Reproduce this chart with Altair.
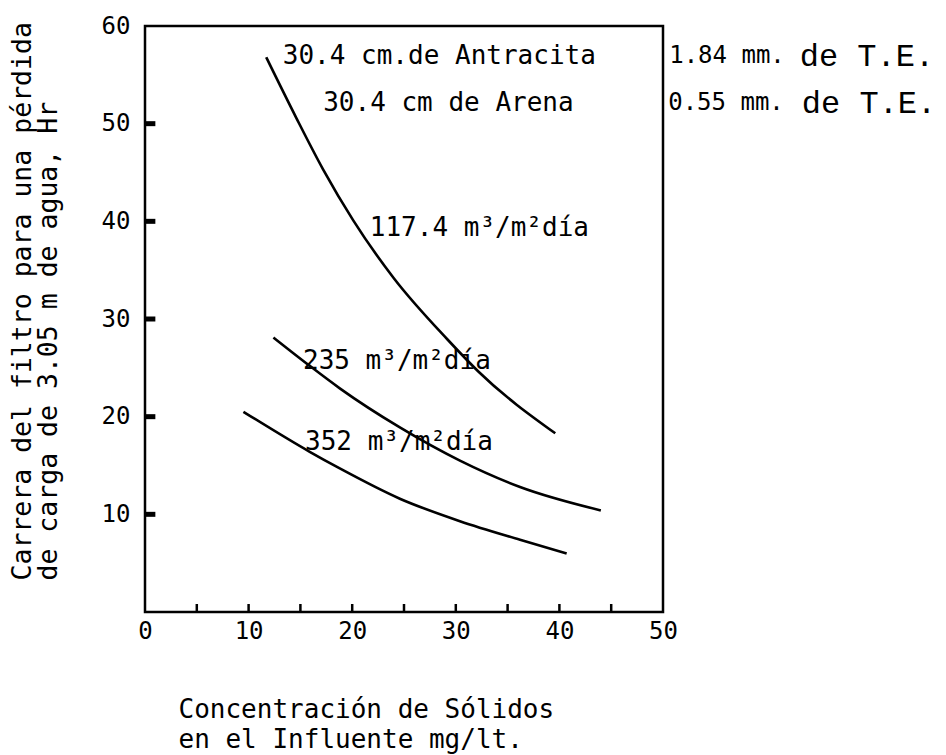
import altair as alt
import pandas as pd

# Run length of the dual-media filter (h) against influent solids (mg/l),
# one curve per filtration rate.
conc_117 = [11.7, 14.6, 17.2, 20.1, 24.0, 29.2, 32.2, 39.6]
hours_117 = [56.8, 50.6, 45.3, 40.1, 34.2, 27.9, 24.6, 18.3]
conc_235 = [12.4, 15.9, 18.8, 24.6, 30.4, 36.2, 44.0]
hours_235 = [28.1, 25.2, 22.9, 18.9, 15.5, 12.8, 10.4]
conc_352 = [9.5, 15.9, 18.8, 24.6, 30.4, 36.2, 40.7]
hours_352 = [20.5, 16.4, 14.7, 11.6, 9.3, 7.4, 6.0]

# Curve labels (filtration rate)
rate_labels = ["117.4 m³/m²día", "235 m³/m²día", "352 m³/m²día"]
rate_label_conc = [21.7, 15.25, 15.45]
rate_label_hours = [39.3, 25.7, 17.4]

# Filter bed description
media_labels = ["30.4 cm.de Antracita", "30.4 cm de Arena"]
media_conc = [13.3, 17.2]
media_hours = [56.9, 52.1]
size_labels = ["1.84 mm.", "0.55 mm."]
size_conc = [50.6, 50.5]
te_labels = ["de T.E.", "de T.E."]
te_conc = [63.2, 63.4]

# Axis ticks and labels
x_labels = [0, 10, 20, 30, 40, 50]
y_labels = [10, 20, 30, 40, 50, 60]
x_minor = [5, 10, 15, 20, 25, 30, 35, 40, 45]
y_major = [10, 20, 30, 40, 50]

MONO = "DejaVu Sans Mono"
TYPE = "Liberation Mono"

x_title = ["Concentración de Sólidos", "en el Influente mg/lt."]
y_title = ["Carrera del filtro para una pérdida", "de carga de 3.05 m de agua, Hr"]

x_scale = alt.Scale(domain=[0, 50], nice=False, zero=False)
y_scale = alt.Scale(domain=[0, 60], nice=False, zero=False)

x_axis = alt.Axis(
    values=x_labels, format="d", ticks=False, domain=False, grid=False,
    labelFont=MONO, labelFontSize=24, labelColor="black", labelPadding=7,
    labelFlush=False,
    titleFont=MONO, titleFontSize=26, titleFontWeight="normal", titleColor="black",
    titleAlign="left", titleAnchor="start", titleBaseline="alphabetic",
    titleX=33, titleY=105, titleLineHeight=30,
)
y_axis = alt.Axis(
    values=y_labels, format="d", ticks=False, domain=False, grid=False,
    labelFont=MONO, labelFontSize=24, labelColor="black", labelPadding=15,
    labelFlush=False,
    titleFont=MONO, titleFontSize=26.5, titleFontWeight="normal", titleColor="black",
    titleAngle=270, titleAlign="left", titleBaseline="alphabetic",
    titleX=-115, titleY=554, titleLineHeight=26,
)


def xenc(field):
    return alt.X(field, type="quantitative", scale=x_scale, axis=x_axis, title=x_title)


def yenc(field):
    return alt.Y(field, type="quantitative", scale=y_scale, axis=y_axis, title=y_title)


curves = pd.DataFrame({
    "conc": conc_117 + conc_235 + conc_352,
    "hours": hours_117 + hours_235 + hours_352,
    "rate": ["117.4"] * len(conc_117) + ["235"] * len(conc_235) + ["352"] * len(conc_352),
})

lines = alt.Chart(curves).mark_line(
    color="black", strokeWidth=2.6, interpolate="monotone"
).encode(x=xenc("conc"), y=yenc("hours"), detail="rate:N")

# Inward tick marks on both axes
x_ticks_df = pd.DataFrame({"conc": x_minor, "hours": [0] * len(x_minor)})
x_ticks = alt.Chart(x_ticks_df).mark_rule(
    color="black", strokeWidth=2.5, y2Offset=-8
).encode(x=xenc("conc"), y=yenc("hours"), y2="hours")

y_ticks_df = pd.DataFrame({"conc": [0] * len(y_major), "hours": y_major})
y_ticks = alt.Chart(y_ticks_df).mark_rule(
    color="black", strokeWidth=5
).encode(x=xenc("conc"), x2=alt.X2(datum=1.0), y=yenc("hours"))

rate_df = pd.DataFrame({"label": rate_labels, "conc": rate_label_conc, "hours": rate_label_hours})
rate_text = alt.Chart(rate_df).mark_text(
    font=MONO, fontSize=26, align="left", baseline="middle", color="black"
).encode(x=xenc("conc"), y=yenc("hours"), text="label:N")

media_df = pd.DataFrame({"label": media_labels, "conc": media_conc, "hours": media_hours})
media_text = alt.Chart(media_df).mark_text(
    font=MONO, fontSize=26, align="left", baseline="middle", color="black"
).encode(x=xenc("conc"), y=yenc("hours"), text="label:N")

size_df = pd.DataFrame({"label": size_labels, "conc": size_conc, "hours": media_hours})
size_text = alt.Chart(size_df).mark_text(
    font=MONO, fontSize=24, align="left", baseline="middle", color="black"
).encode(x=xenc("conc"), y=yenc("hours"), text="label:N")

te_df = pd.DataFrame({"label": te_labels, "conc": te_conc, "hours": media_hours})
te_text = alt.Chart(te_df).mark_text(
    font=TYPE, fontSize=32, align="left", baseline="middle", color="black"
).encode(x=xenc("conc"), y=yenc("hours"), text="label:N")

chart = alt.layer(
    lines, x_ticks, y_ticks, rate_text, media_text, size_text, te_text
).properties(
    width=518,
    height=586,
    padding={"left": 145, "top": 26, "right": 283, "bottom": 143},
    autosize=alt.AutoSizeParams(type="none"),
    background="white",
).configure_view(
    stroke="black", strokeWidth=2.5
)

chart.save("out.html", embed_options={"renderer": "svg", "actions": False})
